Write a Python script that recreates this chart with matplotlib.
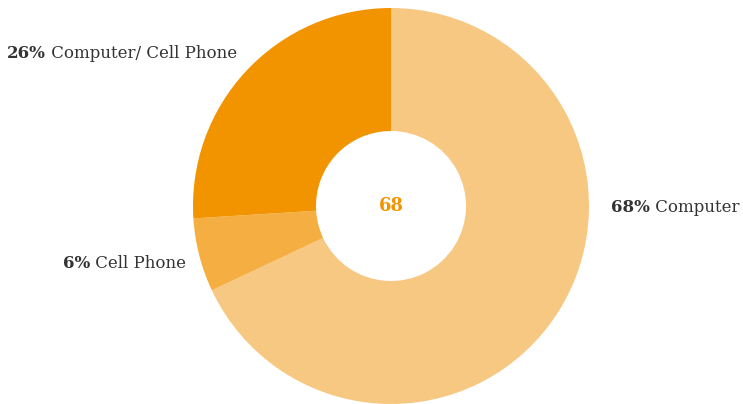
import matplotlib
matplotlib.use("Agg")
import matplotlib.pyplot as plt

# Survey shares by device
categories = ["Computer", "Cell Phone", "Computer/ Cell Phone"]
shares = [68, 6, 26]
colors = ["#F7C882", "#F4AE42", "#F29400"]
center_value = 68

W, H = 743, 404
fig = plt.figure(figsize=(W / 100, H / 100), dpi=100)
ax = fig.add_axes([0, 0, 1, 1])

cx, cy = 391, H - 206
outer_r = 198
inner_r = 75

ax.pie(shares, colors=colors, startangle=90, counterclock=False,
       center=(cx, cy), radius=outer_r,
       wedgeprops=dict(width=outer_r - inner_r, linewidth=0))
ax.set_xlim(0, W)
ax.set_ylim(0, H)
ax.set_aspect("equal")
ax.axis("off")

serif = ["DejaVu Serif"]
txt_color = "#333333"
fs = 12

ax.text(cx, cy, str(center_value), ha="center", va="center",
        fontsize=13, fontweight="bold", color="#F29400", family=serif)

# label anchor points (x, y, horizontal alignment)
label_pos = [(611, H - 207, "left"), (186, H - 263, "right"), (7, H - 53, "left")]

fig.canvas.draw()
renderer = fig.canvas.get_renderer()
inv = ax.transData.inverted()

for cat, val, (x, y, ha) in zip(categories, shares, label_pos):
    bold = f"{val}%"
    rest = f" {cat}"
    if ha == "left":
        t1 = ax.text(x, y, bold, ha="left", va="center", fontsize=fs,
                     fontweight="bold", color=txt_color, family=serif)
        bb = t1.get_window_extent(renderer)
        x2 = inv.transform((bb.x1, 0))[0]
        ax.text(x2, y, rest, ha="left", va="center", fontsize=fs,
                color=txt_color, family=serif)
    else:
        t2 = ax.text(x, y, rest, ha="right", va="center", fontsize=fs,
                     color=txt_color, family=serif)
        bb = t2.get_window_extent(renderer)
        x1 = inv.transform((bb.x0, 0))[0]
        ax.text(x1, y, bold, ha="right", va="center", fontsize=fs,
                fontweight="bold", color=txt_color, family=serif)

fig.savefig("out.png", dpi=100)
